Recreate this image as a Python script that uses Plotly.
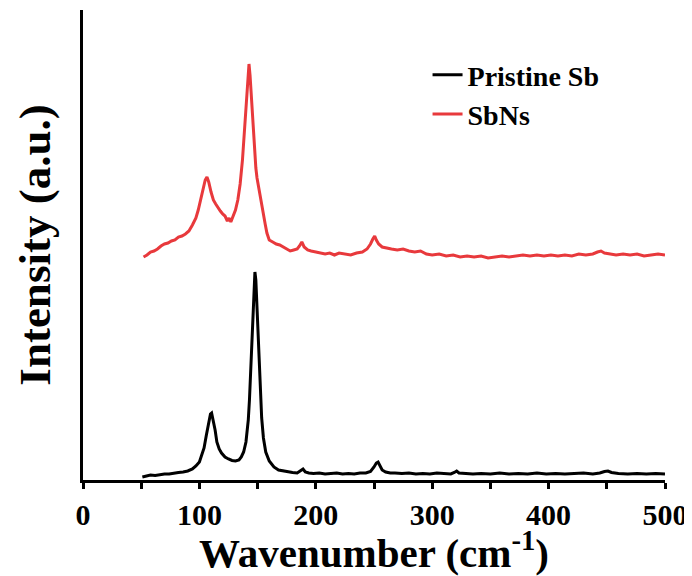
import plotly.graph_objects as go

# ---- data (arbitrary intensity units) ----
pristine_x = [51, 55, 58, 62, 66, 70, 74, 78, 82, 86, 90, 94, 97, 100, 102, 104, 106, 108, 109.5, 110.5,
              112, 113.5, 115, 117, 119, 122, 125, 128, 131, 134, 136, 138, 140, 142, 143, 144, 145, 146,
              147, 147.7, 148.5, 149.5, 150.5, 151.5, 152.5, 153.5, 155, 157, 160, 164, 168, 172, 176, 180,
              184, 187, 189, 191, 194, 198, 203, 208, 213, 218, 223, 228, 233, 238, 243, 247, 250, 252,
              253.5, 255, 257, 260, 264, 268, 274, 280, 286, 292, 298, 304, 310, 316, 319, 321, 323, 328,
              335, 342, 350, 358, 366, 374, 382, 390, 398, 406, 414, 422, 430, 438, 444, 448, 451, 454,
              460, 468, 476, 484, 492, 500]
pristine_y = [3, 4, 5, 4.5, 5.5, 6, 6, 7, 7.5, 8, 9, 11, 14, 18, 24, 32, 45, 58, 66, 67,
              60, 50, 38, 31, 27, 23, 21, 19.5, 19, 20, 23, 28, 38, 60, 80, 105, 135, 165,
              195, 208, 200, 175, 145, 115, 85, 62, 42, 28, 19, 13, 10, 9, 8, 7.5,
              7, 9, 11, 8, 7, 6.5, 7, 6, 6.5, 7, 6, 6.5, 6, 7, 7, 8.5, 13, 17,
              18, 14, 10, 8, 7, 7, 6.5, 7, 6, 6.5, 6, 7, 6.5, 6, 7.5, 9, 7, 6.5,
              6, 6.5, 6, 7, 6, 6.5, 6, 7, 6, 6.5, 6, 6.5, 7, 6, 7, 8.5, 9, 7.5,
              6.5, 6, 6.5, 6, 6.5, 6]

sbns_x = [52, 55, 58, 61, 64, 67, 70, 73, 76, 79, 82, 85, 88, 91, 94, 97, 99, 101, 103, 105, 106.5,
          108, 110, 112, 114, 116, 118, 120, 122, 124, 125.5, 127, 129, 131, 133, 135, 137, 138.5, 140,
          141.5, 142.6, 143.5, 144.5, 145.5, 146.5, 147.5, 148.5, 149.5, 150.5, 152, 153.5, 155, 156.5,
          158, 160, 163, 166, 169, 172, 175, 178, 181, 184, 186, 188, 190, 193, 196, 200, 204, 208, 212,
          216, 220, 225, 230, 235, 240, 244, 247, 249, 250.6, 252, 254, 257, 260, 265, 270, 275, 280,
          285, 290, 295, 300, 306, 312, 318, 324, 330, 336, 342, 348, 354, 360, 366, 372, 378, 384,
          390, 396, 402, 408, 414, 420, 426, 432, 438, 442, 445, 448, 452, 458, 464, 470, 476, 482,
          488, 494, 500]
sbns_y = [223, 225, 228, 229, 231, 234, 236, 237, 239, 240, 243, 244, 246, 249, 255, 262, 270, 280, 292, 300, 303,
          298, 288, 280, 276, 272, 269, 266, 264, 259, 262, 258, 264, 270, 280, 296, 320, 345, 378,
          405, 416, 405, 385, 362, 342, 325, 312, 302, 295, 287, 277, 267, 256,
          247, 240, 238, 236, 235, 233, 231, 229, 230, 231, 234, 238, 233, 230, 229, 228, 227, 226, 227,
          225, 227, 226, 225, 227, 228, 231, 236, 241, 244, 240, 236, 233, 232, 231, 230, 231, 229,
          228, 229, 226, 225, 226, 224, 225, 223, 224, 223, 224, 222, 223, 224, 223, 224, 225, 224,
          225, 224, 225, 224, 225, 224, 226, 225, 226, 228, 229, 227, 226, 225, 226, 225, 226, 224,
          225, 226, 225]

x_ticks = [0, 100, 200, 300, 400, 500]
series_names = ["Pristine Sb", "SbNs"]
series_colors = ["#000000", "#E8393C"]

FONT = "Liberation Serif, Times New Roman, serif"

fig = go.Figure()
fig.add_trace(go.Scatter(x=pristine_x, y=pristine_y, mode="lines", name=series_names[0],
                         line=dict(color=series_colors[0], width=3)))
fig.add_trace(go.Scatter(x=sbns_x, y=sbns_y, mode="lines", name=series_names[1],
                         line=dict(color=series_colors[1], width=3)))

# the page adds an 8px body margin, so the figure is sized/margined to compensate
fig.update_layout(
    width=684, height=568,
    margin=dict(l=75, r=27, t=2, b=96),
    paper_bgcolor="white", plot_bgcolor="white",
    font=dict(family=FONT, color="black"),
    showlegend=True,
    legend=dict(x=0.592, y=0.915, xanchor="left", yanchor="top",
                font=dict(family=FONT, size=28, weight="bold", color="black"),
                bgcolor="rgba(0,0,0,0)", itemwidth=30, tracegroupgap=0),
    xaxis=dict(range=[0, 500], tickvals=x_ticks, ticks="outside", ticklen=6, tickwidth=2.5,
               tickcolor="black", showline=True, linewidth=2.8, linecolor="black",
               showgrid=False, zeroline=False, automargin=False,
               minor=dict(ticks="outside", ticklen=6, tickwidth=2.5, tickcolor="black", dtick=50, tick0=0),
               tickfont=dict(family=FONT, size=30, weight="bold", color="black"),
               title=dict(text="Wavenumber (cm<sup>-1</sup>)", standoff=0,
                          font=dict(family=FONT, size=41, weight="bold", color="black"))),
    yaxis=dict(range=[0, 470], showticklabels=False, ticks="", showline=True, linewidth=2.8,
               linecolor="black", showgrid=False, zeroline=False, automargin=False,
               title=dict(text="Intensity (a.u.)", standoff=16,
                          font=dict(family=FONT, size=45, weight="bold", color="black"))),
)

fig.write_html("out.html")
